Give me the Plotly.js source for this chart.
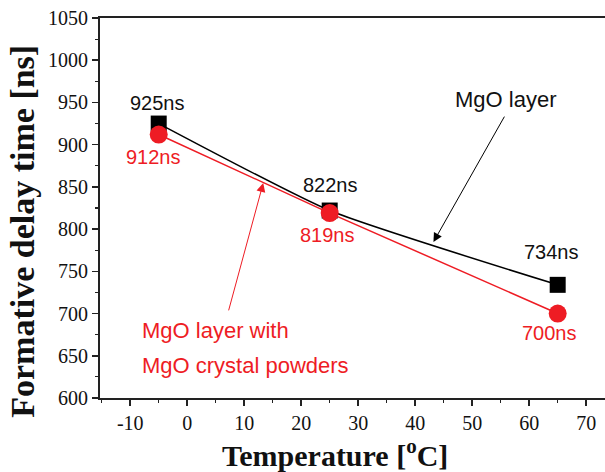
<!DOCTYPE html>
<html>
<head>
<meta charset="utf-8">
<script src="https://cdn.plot.ly/plotly-3.0.1.min.js"></script>
<style>html,body{margin:0;padding:0;background:#fff;}#chart{width:605px;height:472px;}</style>
</head>
<body>
<div id="chart"></div>
<script>
const temperatures = [-5, 25, 65];
const mgoLayer = [925, 822, 734];
const mgoPowder = [912, 819, 700];
const xTicks = [-10, 0, 10, 20, 30, 40, 50, 60, 70];
const yTicks = [600, 650, 700, 750, 800, 850, 900, 950, 1000, 1050];
const xTitle = '<b>Temperature [<sup>o</sup>C]</b>';
const yTitle = '<b>Formative delay time [ns]</b>';
const captionLines = ['MgO layer with', 'MgO crystal powders'];

const RED = '#ee1c24';
const BLACK = '#000000';

const traces = [
  {
    x: temperatures, y: mgoLayer, type: 'scatter', mode: 'lines+markers',
    line: {color: BLACK, width: 1.5, shape: 'spline', smoothing: 0.5},
    marker: {symbol: 'square', size: 16, color: BLACK},
    name: 'MgO layer', showlegend: false
  },
  {
    x: temperatures, y: mgoPowder, type: 'scatter', mode: 'lines+markers',
    line: {color: RED, width: 1.5, shape: 'spline', smoothing: 0.5},
    marker: {symbol: 'circle', size: 18, color: RED},
    name: 'MgO layer with MgO crystal powders', showlegend: false
  }
];

const labelFont = {family: 'Liberation Sans, Arial, sans-serif', size: 20};
const captionFont = {family: 'Liberation Sans, Arial, sans-serif', size: 22};
// label offsets (layout only)
const blackOff = [[-0.3, 24], [0.1, 30], [-1.0, 39]];
const redOff = [[-1, -27], [-0.4, -26], [-1.5, -23]];

const annotations = [];
temperatures.forEach((t, i) => {
  annotations.push({x: t + blackOff[i][0], y: mgoLayer[i] + blackOff[i][1], text: mgoLayer[i] + 'ns',
    showarrow: false, font: Object.assign({color: '#111'}, labelFont), xref: 'x', yref: 'y'});
  annotations.push({x: t + redOff[i][0], y: mgoPowder[i] + redOff[i][1], text: mgoPowder[i] + 'ns',
    showarrow: false, font: Object.assign({color: RED}, labelFont), xref: 'x', yref: 'y'});
});

annotations.push({x: 55.8, y: 953, text: 'MgO layer', showarrow: false,
  font: Object.assign({color: '#111'}, captionFont), xref: 'x', yref: 'y'});
annotations.push({x: 43.2, y: 784.7, ax: 55.8, ay: 935, axref: 'x', ayref: 'y', xref: 'x', yref: 'y',
  text: '', showarrow: true, arrowhead: 2, arrowsize: 1.8, arrowwidth: 1, arrowcolor: BLACK, standoff: 0, startstandoff: 0});

annotations.push({x: -8.3, y: 680.5, text: captionLines[0], showarrow: false,
  xanchor: 'left', align: 'left', font: Object.assign({color: RED}, captionFont), xref: 'x', yref: 'y'});
annotations.push({x: -8.3, y: 639, text: captionLines[1], showarrow: false,
  xanchor: 'left', align: 'left', font: Object.assign({color: RED}, captionFont), xref: 'x', yref: 'y'});
annotations.push({x: 13.34, y: 854.6, ax: 7.2, ay: 702, axref: 'x', ayref: 'y', xref: 'x', yref: 'y',
  text: '', showarrow: true, arrowhead: 2, arrowsize: 1.8, arrowwidth: 1, arrowcolor: RED, standoff: 0, startstandoff: 0});

// axis titles placed as annotations for exact placement
annotations.push({xref: 'paper', yref: 'paper', x: 0.465, y: -0.145, xanchor: 'center', yanchor: 'middle',
  text: xTitle, showarrow: false,
  font: {family: 'Liberation Serif, Times New Roman, serif', size: 30, color: '#111'}});
annotations.push({xref: 'paper', yref: 'paper', x: -0.1525, y: 0.44, xanchor: 'center', yanchor: 'middle',
  text: yTitle, showarrow: false, textangle: -90,
  font: {family: 'Liberation Serif, Times New Roman, serif', size: 34, color: '#111'}});

const tickFont = {family: 'Liberation Serif, Times New Roman, serif', size: 20, color: '#111'};

const layout = {
  width: 605, height: 472,
  margin: {l: 100, r: 0, t: 18, b: 74, pad: 0},
  paper_bgcolor: '#fff', plot_bgcolor: '#fff',
  showlegend: false,
  xaxis: {
    range: [-15.3, 73.3], tickvals: xTicks, ticktext: xTicks.map(String),
    ticks: 'outside', ticklen: 6, tickwidth: 1.5, tickcolor: '#222',
    minor: {dtick: 5, tick0: -15, ticks: 'outside', ticklen: 3, tickwidth: 1.2, tickcolor: '#222'},
    showline: true, linecolor: '#222', linewidth: 2, mirror: true,
    showgrid: false, zeroline: false, tickfont: tickFont
  },
  yaxis: {
    range: [600, 1050], tickvals: yTicks, ticktext: yTicks.map(String),
    ticks: 'outside', ticklen: 6, tickwidth: 1.5, tickcolor: '#222',
    minor: {dtick: 25, tick0: 600, ticks: 'outside', ticklen: 3, tickwidth: 1.2, tickcolor: '#222'},
    showline: true, linecolor: '#222', linewidth: 2, mirror: true,
    showgrid: false, zeroline: false, tickfont: tickFont
  },
  annotations: annotations
};

Plotly.newPlot('chart', traces, layout, {displayModeBar: false, staticPlot: true});
</script>
</body>
</html>
